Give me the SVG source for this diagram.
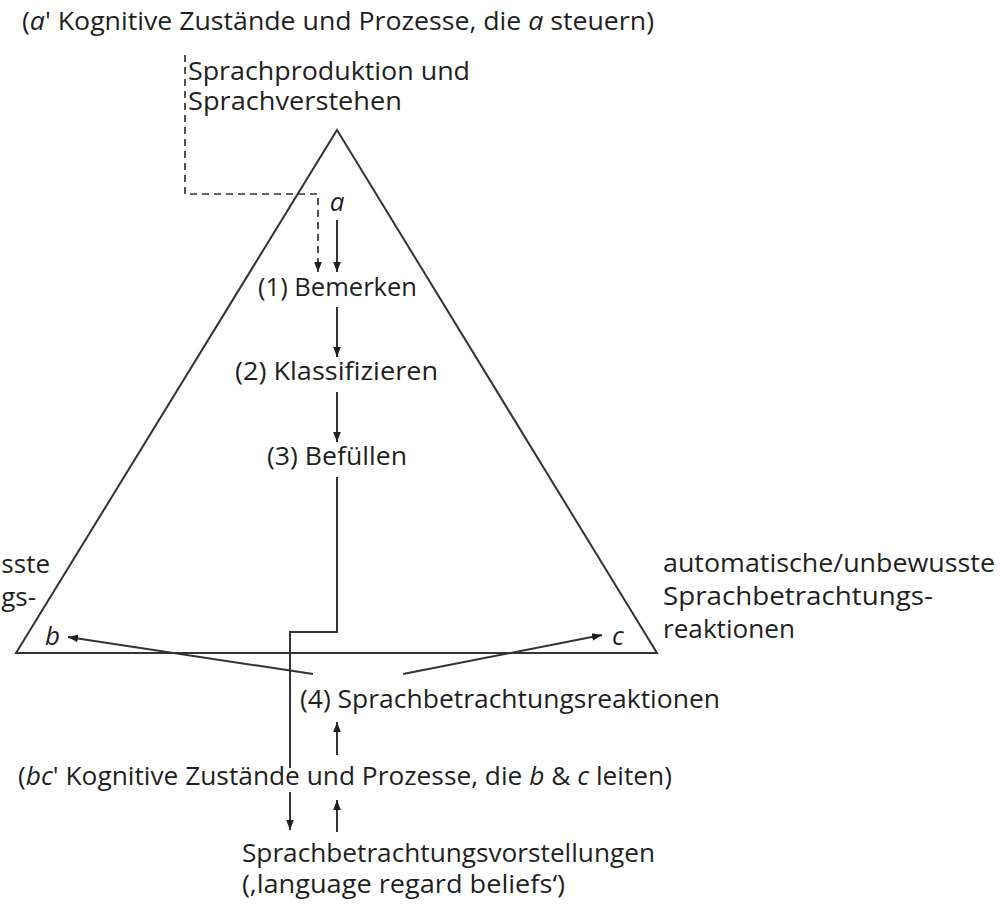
<svg xmlns="http://www.w3.org/2000/svg" width="1000" height="909" viewBox="0 0 1000 909">
<defs>
<style>
text{font-family:"Open Sans","Noto Sans","Liberation Sans",sans-serif;font-size:26px;fill:#1f1f1f}
.it{font-style:italic}
.ln{fill:none;stroke:#333333;stroke-width:2}
.dash{fill:none;stroke:#333333;stroke-width:1.7;stroke-dasharray:7 5}
</style>
<marker id="ah" viewBox="0 0 10 10" refX="10" refY="5" markerWidth="10" markerHeight="10" markerUnits="userSpaceOnUse" orient="auto">
<path d="M0,1.2 L10,5 L0,8.8 Z" fill="#1f1f1f"/>
</marker>
</defs>
<rect width="1000" height="909" fill="#ffffff"/>

<g id="triangle">
<path class="ln" d="M337,130 L657,653 L16,653 Z"/>
</g>

<g id="title-a">
<text x="22" y="30" textLength="632" lengthAdjust="spacingAndGlyphs">(<tspan class="it">a</tspan>' Kognitive Zustände und Prozesse, die <tspan class="it">a</tspan> steuern)</text>
</g>
<g id="sprachproduktion">
<text x="188" y="80" textLength="282" lengthAdjust="spacingAndGlyphs">Sprachproduktion und</text>
<text x="188" y="110" textLength="214" lengthAdjust="spacingAndGlyphs">Sprachverstehen</text>
</g>
<g id="vertex-a"><text class="it" x="337" y="211" text-anchor="middle">a</text></g>
<g id="step1"><text x="258" y="296" textLength="159" lengthAdjust="spacingAndGlyphs">(1) Bemerken</text></g>
<g id="step2"><text x="235" y="380" textLength="203" lengthAdjust="spacingAndGlyphs">(2) Klassifizieren</text></g>
<g id="step3"><text x="267" y="465" textLength="140" lengthAdjust="spacingAndGlyphs">(3) Befüllen</text></g>
<g id="vertex-b"><text class="it" x="45" y="645">b</text></g>
<g id="vertex-c"><text class="it" x="612" y="645">c</text></g>
<g id="label-left">
<text x="50" y="573" text-anchor="end">sste</text>
<text x="36" y="606" text-anchor="end">gs-</text>
</g>
<g id="label-right">
<text x="663" y="572" textLength="332" lengthAdjust="spacingAndGlyphs">automatische/unbewusste</text>
<text x="663" y="605" textLength="270" lengthAdjust="spacingAndGlyphs">Sprachbetrachtungs-</text>
<text x="663" y="638" textLength="132" lengthAdjust="spacingAndGlyphs">reaktionen</text>
</g>
<g id="step4"><text x="300" y="708" textLength="420" lengthAdjust="spacingAndGlyphs">(4) Sprachbetrachtungsreaktionen</text></g>
<g id="title-bc">
<text x="18" y="785" textLength="654" lengthAdjust="spacingAndGlyphs">(<tspan class="it">bc</tspan>' Kognitive Zustände und Prozesse, die <tspan class="it">b</tspan> &amp; <tspan class="it">c</tspan> leiten)</text>
</g>
<g id="beliefs">
<text x="242" y="862" textLength="413" lengthAdjust="spacingAndGlyphs">Sprachbetrachtungsvorstellungen</text>
<text x="242" y="893" textLength="323" lengthAdjust="spacingAndGlyphs">(‚language regard beliefs‘)</text>
</g>

<g id="connectors">
<path class="dash" d="M185,55 V194 H318 V272" marker-end="url(#ah)"/>
<path class="ln" d="M337,220 V272" marker-end="url(#ah)"/>
<path class="ln" d="M337,307 V357" marker-end="url(#ah)"/>
<path class="ln" d="M337,392 V442" marker-end="url(#ah)"/>
<path class="ln" d="M337,477 V632 H290 V768"/>
<path class="ln" d="M290,792 V830" marker-end="url(#ah)"/>
<path class="ln" d="M313,674 L68,637" marker-end="url(#ah)"/>
<path class="ln" d="M403,674 L602,635" marker-end="url(#ah)"/>
<path class="ln" d="M337,755 V722" marker-end="url(#ah)"/>
<path class="ln" d="M337,832 V800" marker-end="url(#ah)"/>
</g>
</svg>
